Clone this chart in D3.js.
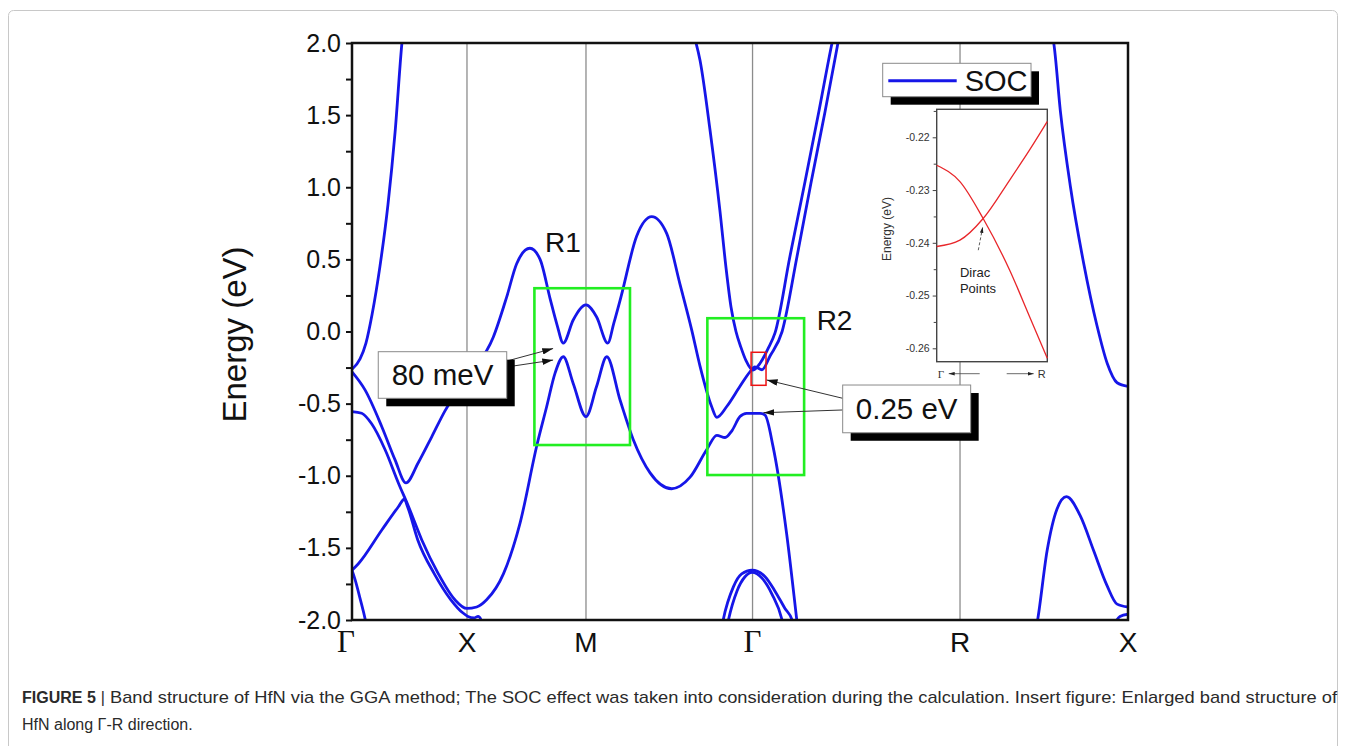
<!DOCTYPE html>
<html>
<head>
<meta charset="utf-8">
<script src="https://cdn.jsdelivr.net/npm/d3@7"></script>
<style>
  body { margin: 0; background: #fff; }
  svg { display: block; font-family: Arial, "Liberation Sans", sans-serif; }
</style>
</head>
<body>
<div id="chart"></div>
<script>
// 1: DATA (k along the path, energy in eV)
const kPoints = [0, 0.486, 0.989, 1.693, 2.570, 3.280];
const kLabels = ["Γ", "X", "M", "Γ", "R", "X"];
const yTicks = [2.0, 1.5, 1.0, 0.5, 0.0, -0.5, -1.0, -1.5, -2.0];
const yTickLabels = ["2.0", "1.5", "1.0", "0.5", "0.0", "-0.5", "-1.0", "-1.5", "-2.0"];
const yMinorTicks = [1.75, 1.25, 0.75, 0.25, -0.25, -0.75, -1.25, -1.75];

const band1 = [[0,-0.262],[0.034,-0.19],[0.059,-0.08],[0.085,0.12],[0.118,0.45],[0.152,0.88],[0.182,1.38],[0.211,2.0],[0.224,2.2]];
const band2 = [[0,-0.28],[0.055,-0.405],[0.126,-0.66],[0.182,-0.89],[0.228,-1.05],[0.280,-0.91],[0.337,-0.73],[0.393,-0.55],
  [0.499,-0.30],[0.597,-0.04],[0.654,0.24],[0.696,0.47],[0.752,0.577],[0.795,0.50],[0.837,0.23],[0.866,0.05],[0.893,-0.08],
  [0.935,0.08],[0.989,0.184],[1.034,0.10],[1.081,-0.08],[1.107,0.06],[1.137,0.24],[1.203,0.66],[1.267,0.796],[1.330,0.68],
  [1.386,0.33],[1.436,0.01],[1.471,-0.24],[1.520,-0.52],[1.542,-0.595],[1.584,-0.52],[1.640,-0.38],[1.682,-0.28],[1.703,-0.245],
  [1.733,-0.265],[1.767,-0.17],[1.818,0.0],[1.881,0.52],[1.940,1.03],[1.999,1.52],[2.054,2.0],[2.071,2.15]];
const band3 = [[0,-0.556],[0.041,-0.567],[0.083,-0.64],[0.140,-0.82],[0.196,-1.05],[0.238,-1.21],[0.295,-1.445],[0.365,-1.68],
  [0.435,-1.86],[0.485,-1.92],[0.527,-1.91],[0.569,-1.86],[0.640,-1.68],[0.710,-1.33],[0.782,-0.785],[0.823,-0.52],[0.858,-0.29],
  [0.893,-0.175],[0.935,-0.36],[0.989,-0.59],[1.034,-0.38],[1.077,-0.175],[1.133,-0.475],[1.189,-0.75],[1.260,-0.98],[1.351,-1.09],
  [1.429,-1.01],[1.499,-0.82],[1.542,-0.72],[1.577,-0.735],[1.605,-0.69],[1.640,-0.59],[1.668,-0.567],[1.725,-0.567],[1.746,-0.58],
  [1.780,-0.80],[1.837,-1.40],[1.880,-2.0],[1.894,-2.2]];
const band4 = [[0,-1.655],[0.027,-1.61],[0.126,-1.376],[0.196,-1.215],[0.221,-1.163],[0.236,-1.22],[0.278,-1.445],[0.348,-1.68],
  [0.418,-1.86],[0.468,-1.95],[0.490,-1.975],[0.516,-1.985],[0.533,-1.975],[0.558,-2.05]];
const band5 = [[0,-1.655],[0.013,-1.72],[0.034,-1.85],[0.059,-2.02],[0.068,-2.1]];
const band6 = [[1.446,2.05],[1.471,1.88],[1.513,1.40],[1.555,0.84],[1.581,0.44],[1.602,0.17],[1.623,0.0],[1.644,-0.11],
  [1.665,-0.20],[1.695,-0.267],[1.725,-0.22],[1.758,-0.12],[1.788,-0.01],[1.851,0.52],[1.915,1.04],[1.974,1.53],[2.029,2.0],[2.042,2.1]];
const band7 = [[1.560,-2.08],[1.569,-2.0],[1.612,-1.77],[1.647,-1.68],[1.691,-1.655],[1.746,-1.70],[1.788,-1.80],[1.830,-1.92],[1.860,-2.0],[1.868,-2.05]];
const band8 = [[1.581,-2.08],[1.591,-2.0],[1.627,-1.80],[1.661,-1.70],[1.691,-1.67],[1.733,-1.71],[1.775,-1.82],[1.818,-2.0],[1.826,-2.06]];
const band9 = [[2.955,2.08],[2.966,2.0],[2.994,1.53],[3.037,1.0],[3.093,0.47],[3.149,0.04],[3.192,-0.22],[3.234,-0.355],[3.280,-0.38]];
const band10 = [[2.887,-2.1],[2.898,-2.0],[2.938,-1.52],[2.980,-1.23],[3.020,-1.145],[3.079,-1.28],[3.135,-1.52],[3.191,-1.76],[3.234,-1.89],[3.280,-1.91]];
const band11 = [[3.212,-2.06],[3.246,-1.975],[3.280,-1.96]];
const bands = [band1, band2, band3, band4, band5, band6, band7, band8, band9, band10, band11];

// annotation boxes: [k0, k1, eTop, eBottom]
const r1Box = [0.771, 1.175, 0.30, -0.787];
const r2Box = [1.502, 1.911, 0.092, -0.995];
const diracBox = [1.687, 1.750, -0.144, -0.373];
const meVBox = [0.111, 0.654, -0.140, -0.463];
const eVBox = [2.074, 2.615, -0.371, -0.702];
// arrows: [kFrom, eFrom, kTo, eTo]
const meVArrows = [[0.654,-0.205,0.850,-0.118],[0.654,-0.246,0.850,-0.198]];
const eVArrows = [[2.074,-0.463,1.753,-0.336],[2.074,-0.544,1.739,-0.563]];

// inset (enlarged Γ-R crossing)
const insetK = [0, 0.21, 0.42, 0.66, 0.84, 1.0];
const insetBandA = [-0.2253, -0.2284, -0.2354, -0.2452, -0.2540, -0.2619];
const insetBandB = [-0.2407, -0.2395, -0.2354, -0.2281, -0.2224, -0.2170];
const insetTicks = [-0.22, -0.23, -0.24, -0.25, -0.26];
const insetTickLabels = ["-0.22", "-0.23", "-0.24", "-0.25", "-0.26"];
const insetMinorTicks = [-0.215, -0.225, -0.235, -0.245, -0.255];

// 2: LAYOUT
const margin = { top: 43, right: 218, bottom: 126, left: 352 };
const width = 1346 - margin.left - margin.right;   // 776
const height = 746 - margin.top - margin.bottom;   // 577
const blue = "#1616e8", green = "#22ee22";

const svg = d3.select("#chart").append("svg")
  .attr("width", 1346)
  .attr("height", 746);

svg.append("rect").attr("width", 1346).attr("height", 746).attr("fill", "#fff");
// thin page frame
svg.append("rect")
  .attr("x", 8.5).attr("y", 10.5).attr("width", 1329).attr("height", 800).attr("rx", 5)
  .attr("fill", "none").attr("stroke", "#c8c8c8");

const defs = svg.append("defs");
defs.append("clipPath").attr("id", "plotClip")
  .append("rect").attr("width", width).attr("height", height);
defs.append("marker").attr("id", "head")
  .attr("viewBox", "0 0 10 6").attr("refX", 10).attr("refY", 3)
  .attr("markerWidth", 11).attr("markerHeight", 6.5)
  .attr("markerUnits", "userSpaceOnUse").attr("orient", "auto")
  .append("path").attr("d", "M0,0L10,3L0,6Z").attr("fill", "#111");
defs.append("marker").attr("id", "smallHead")
  .attr("viewBox", "0 0 10 6").attr("refX", 10).attr("refY", 3)
  .attr("markerWidth", 6).attr("markerHeight", 4)
  .attr("markerUnits", "userSpaceOnUse").attr("orient", "auto")
  .append("path").attr("d", "M0,0L10,3L0,6Z").attr("fill", "#222");

const g = svg.append("g").attr("transform", `translate(${margin.left},${margin.top})`);

// 3: SCALES
const x = d3.scaleLinear().domain([0, 3.28]).range([0, width]);
const y = d3.scaleLinear().domain([-2, 2]).range([height, 0]);

// 4: GRIDLINES at high-symmetry points
g.selectAll(".kline")
  .data(kPoints.slice(1, -1))
  .join("line")
  .attr("x1", d => x(d)).attr("x2", d => x(d))
  .attr("y1", 0).attr("y2", height)
  .attr("stroke", "#8c8c8c").attr("stroke-width", 1.3);

// 5: BANDS
const line = d3.line()
  .x(d => x(d[0]))
  .y(d => y(d[1]))
  .curve(d3.curveMonotoneX);

g.append("g").attr("clip-path", "url(#plotClip)")
  .selectAll("path")
  .data(bands)
  .join("path")
  .attr("d", line)
  .attr("fill", "none")
  .attr("stroke", blue)
  .attr("stroke-width", 2.8)
  .attr("stroke-linejoin", "round");

// 6: FRAME AND AXES
g.append("rect")
  .attr("width", width).attr("height", height)
  .attr("fill", "none").attr("stroke", "#111").attr("stroke-width", 2.5);

const yAxis = g.append("g")
  .call(d3.axisLeft(y).tickValues(yTicks).tickSize(6).tickPadding(5)
    .tickFormat((d, i) => yTickLabels[i]));
yAxis.select(".domain").remove();
yAxis.selectAll("line").attr("stroke", "#111").attr("stroke-width", 2);
yAxis.selectAll("text").style("font-size", "25px").attr("fill", "#111")
  .style("font-family", "Arial, 'Liberation Sans', sans-serif");

const yMinor = g.append("g")
  .call(d3.axisLeft(y).tickValues(yMinorTicks).tickSize(6).tickFormat(""));
yMinor.select(".domain").remove();
yMinor.selectAll("line").attr("stroke", "#111").attr("stroke-width", 2);

g.selectAll(".klabel")
  .data(kPoints)
  .join("text")
  .attr("x", d => x(d))
  .attr("dx", (d, i) => i === 0 ? -6 : 0)
  .attr("y", height + 32)
  .attr("text-anchor", "middle")
  .style("font-size", (d, i) => kLabels[i] === "Γ" ? "31px" : "28px")
  .style("font-family", (d, i) => kLabels[i] === "Γ" ? "'Liberation Serif', 'DejaVu Serif', serif" : "Arial, 'Liberation Sans', sans-serif")
  .attr("fill", "#111")
  .text((d, i) => kLabels[i]);

g.append("text")
  .attr("transform", "rotate(-90)")
  .attr("x", -height / 2 - 3)
  .attr("y", -106)
  .attr("text-anchor", "middle")
  .style("font-size", "33px")
  .attr("fill", "#111")
  .text("Energy (eV)");

// 7: REGION BOXES
function boxRect(sel, b) {
  return sel.attr("x", x(b[0])).attr("y", y(b[2]))
    .attr("width", x(b[1]) - x(b[0])).attr("height", y(b[3]) - y(b[2]));
}
[r1Box, r2Box].forEach(b => {
  boxRect(g.append("rect"), b).attr("fill", "none").attr("stroke", green).attr("stroke-width", 2.6);
});
boxRect(g.append("rect"), diracBox).attr("fill", "none").attr("stroke", "#ee1111").attr("stroke-width", 1.5);

g.append("text").attr("x", x(0.816)).attr("y", y(0.553))
  .style("font-size", "28px").attr("fill", "#111").text("R1");
g.append("text").attr("x", x(1.964)).attr("y", y(0.01))
  .style("font-size", "28px").attr("fill", "#111").text("R2");

// 8: CALLOUTS
function callout(b, label, arrows) {
  arrows.forEach(a => {
    g.append("line")
      .attr("x1", x(a[0])).attr("y1", y(a[1]))
      .attr("x2", x(a[2])).attr("y2", y(a[3]))
      .attr("stroke", "#333").attr("stroke-width", 1)
      .attr("marker-end", "url(#head)");
  });
  const bx = x(b[0]), by = y(b[2]), bw = x(b[1]) - x(b[0]), bh = y(b[3]) - y(b[2]);
  g.append("rect").attr("x", bx + 8).attr("y", by + 8).attr("width", bw).attr("height", bh).attr("fill", "#000");
  g.append("rect").attr("x", bx).attr("y", by).attr("width", bw).attr("height", bh)
    .attr("fill", "#fff").attr("stroke", "#8a8a8a").attr("stroke-width", 1);
  g.append("text").attr("x", bx + bw / 2).attr("y", by + 33.5)
    .attr("text-anchor", "middle").style("font-size", "29.5px").attr("fill", "#111").text(label);
}
callout(meVBox, "80 meV", meVArrows);
callout(eVBox, "0.25 eV", eVArrows);

// 9: LEGEND
const legend = svg.append("g").attr("transform", "translate(882.7,63.3)");
legend.append("rect").attr("x", 8).attr("y", 8).attr("width", 148.3).attr("height", 33.4).attr("fill", "#000");
legend.append("rect").attr("width", 148.3).attr("height", 33.4)
  .attr("fill", "#fff").attr("stroke", "#8a8a8a").attr("stroke-width", 1);
legend.append("line").attr("x1", 5.6).attr("x2", 74).attr("y1", 17.4).attr("y2", 17.4)
  .attr("stroke", blue).attr("stroke-width", 3);
legend.append("text").attr("x", 82).attr("y", 27.6)
  .style("font-size", "29px").attr("fill", "#111").text("SOC");

// 10: INSET
const inset = { left: 936.7, top: 109.3, width: 110.6, height: 252.4 };
const ig = svg.append("g").attr("transform", `translate(${inset.left},${inset.top})`);
const ix = d3.scaleLinear().domain([0, 1]).range([0, inset.width]);
const iy = d3.scaleLinear().domain([-0.26254, -0.21469]).range([inset.height, 0]);

ig.append("rect").attr("width", inset.width).attr("height", inset.height)
  .attr("fill", "#fff").attr("stroke", "#444").attr("stroke-width", 1.4);

const iline = d3.line()
  .x((d, i) => ix(insetK[i]))
  .y(d => iy(d))
  .curve(d3.curveMonotoneX);
ig.selectAll(".iband")
  .data([insetBandA, insetBandB])
  .join("path")
  .attr("d", iline)
  .attr("fill", "none").attr("stroke", "#e8262a").attr("stroke-width", 1.3);

const iAxis = ig.append("g")
  .call(d3.axisLeft(iy).tickValues(insetTicks).tickSize(4).tickPadding(3)
    .tickFormat((d, i) => insetTickLabels[i]));
iAxis.select(".domain").remove();
iAxis.selectAll("line").attr("stroke", "#444");
iAxis.selectAll("text").style("font-size", "10.5px").attr("fill", "#333")
  .style("font-family", "Arial, 'Liberation Sans', sans-serif");
const iMinor = ig.append("g")
  .call(d3.axisLeft(iy).tickValues(insetMinorTicks).tickSize(3).tickFormat(""));
iMinor.select(".domain").remove();
iMinor.selectAll("line").attr("stroke", "#444");

ig.append("text")
  .attr("transform", "rotate(-90)")
  .attr("x", -(229 - inset.top))
  .attr("y", -46)
  .attr("text-anchor", "middle")
  .style("font-size", "12px").attr("fill", "#333")
  .text("Energy (eV)");

// Dirac point pointer
ig.append("line")
  .attr("x1", ix(0.376)).attr("y1", iy(-0.2414))
  .attr("x2", ix(0.416)).attr("y2", iy(-0.2370))
  .attr("stroke", "#333").attr("stroke-width", 0.8).attr("stroke-dasharray", "3,2")
  .attr("marker-end", "url(#smallHead)");
ig.append("text").attr("x", ix(0.21)).attr("y", iy(-0.2465))
  .style("font-size", "13px").attr("fill", "#222").text("Dirac");
ig.append("text").attr("x", ix(0.21)).attr("y", iy(-0.2495))
  .style("font-size", "13px").attr("fill", "#222").text("Points");

// inset k-direction labels
const iAxisY = inset.height + 12;
ig.append("text").attr("x", 1).attr("y", iAxisY + 4)
  .style("font-size", "11px").style("font-family", "'Liberation Serif', serif").attr("fill", "#333").text("Γ");
ig.append("line").attr("x1", 43).attr("x2", 12).attr("y1", iAxisY).attr("y2", iAxisY)
  .attr("stroke", "#444").attr("stroke-width", 0.8).attr("marker-end", "url(#smallHead)");
ig.append("line").attr("x1", 70).attr("x2", 97).attr("y1", iAxisY).attr("y2", iAxisY)
  .attr("stroke", "#444").attr("stroke-width", 0.8).attr("marker-end", "url(#smallHead)");
ig.append("text").attr("x", 101).attr("y", iAxisY + 4)
  .style("font-size", "11px").attr("fill", "#333").text("R");

// 11: CAPTION
const cap = svg.append("g").style("font-family", "Arial, 'Liberation Sans', sans-serif")
  .attr("fill", "#2a2a2a");
const figLabel = cap.append("text").attr("x", 22).attr("y", 703)
  .style("font-size", "16px").style("font-weight", "bold")
  .text("FIGURE 5");
const barX = 22 + figLabel.node().getComputedTextLength() + 5;
const bar = cap.append("text").attr("x", barX).attr("y", 703)
  .style("font-size", "16px").text("|");
const restX = barX + bar.node().getComputedTextLength() + 5;
cap.append("text").attr("x", restX).attr("y", 703)
  .style("font-size", "17px")
  .attr("textLength", 1337 - restX).attr("lengthAdjust", "spacingAndGlyphs")
  .text("Band structure of HfN via the GGA method; The SOC effect was taken into consideration during the calculation. Insert figure: Enlarged band structure of");
cap.append("text").attr("x", 22).attr("y", 730)
  .style("font-size", "16px")
  .text("HfN along Γ-R direction.");
</script>
</body>
</html>
